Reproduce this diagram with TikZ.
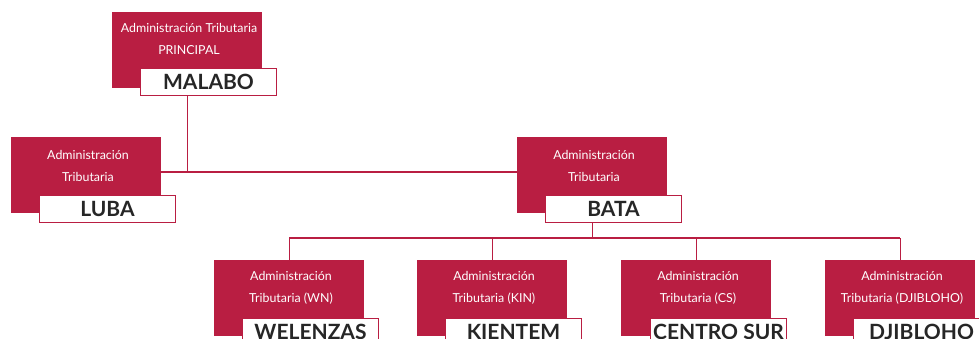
\documentclass[tikz,border=0pt]{standalone}
\usepackage{fontspec}
\setmainfont{Lato}
\definecolor{crim}{RGB}{185,30,66}
\begin{document}
\begin{tikzpicture}[x=1pt,y=-1pt,
  redbox/.style={fill=crim,draw=none,minimum width=150pt,minimum height=76pt,inner sep=0pt,anchor=north west},
  redtext/.style={text=white,font=\fontsize{12.4}{22.5}\selectfont,align=center,inner sep=0pt},
  whitebox/.style={fill=white,draw=crim,line width=1pt,minimum width=136pt,minimum height=27pt,inner sep=0pt,anchor=north west,font=\fontsize{21}{24}\bfseries\selectfont,text=black!85},
  conn/.style={draw=crim,line width=1.2pt}]
\useasboundingbox (0,0) rectangle (979,338);
\clip (0,0) rectangle (979,338);
% top
\node[redbox] (malabo) at (112,12) {};
\node[redtext] (malaboT) at (189,39) {Administración Tributaria\\PRINCIPAL};
\node[whitebox] (malaboL) at (140,68) {MALABO};
% second level
\node[redbox] (luba) at (11,137) {};
\node[redtext] (lubaT) at (88,166) {Administración\\Tributaria};
\node[whitebox] (lubaL) at (39,195) {LUBA};
\node[redbox] (bata) at (517,137) {};
\node[redtext] (bataT) at (594,166) {Administración\\Tributaria};
\node[whitebox] (bataL) at (545,195) {BATA};
% third level
\node[redbox] (wn) at (214,260) {};
\node[redtext] (wnT) at (291,288) {Administración\\Tributaria (WN)};
\node[redbox] (kin) at (417,260) {};
\node[redtext] (kinT) at (494,288) {Administración\\Tributaria (KIN)};
\node[redbox] (cs) at (621,260) {};
\node[redtext] (csT) at (698,288) {Administración\\Tributaria (CS)};
\node[redbox] (dj) at (825,260) {};
\node[redtext] (djT) at (902,288) {Administración\\Tributaria (DJIBLOHO)};
\node[whitebox] (wnL) at (242,318) {WELENZAS};
\node[whitebox] (kinL) at (445,318) {KIENTEM};
\node[whitebox] (csL) at (650,318) {CENTRO SUR};
\node[whitebox] (djL) at (853,318) {DJIBLOHO};
% connectors
\coordinate (h1) at (187,172);
\coordinate (h2) at (593,238);
\draw[conn] (malaboL.south -| malabo.south) -- (malabo |- h1);
\draw[conn] (luba.east |- h1) -- (bata.west |- h1);
\draw[conn] (bataL.south -| bata.south) -- (bata |- h2);
\draw[conn] (wn |- h2) -- (dj |- h2);
\draw[conn] (wn |- h2) -- (wn.north);
\draw[conn] (kin |- h2) -- (kin.north);
\draw[conn] (cs |- h2) -- (cs.north);
\draw[conn] (dj |- h2) -- (dj.north);
\end{tikzpicture}
\end{document}
